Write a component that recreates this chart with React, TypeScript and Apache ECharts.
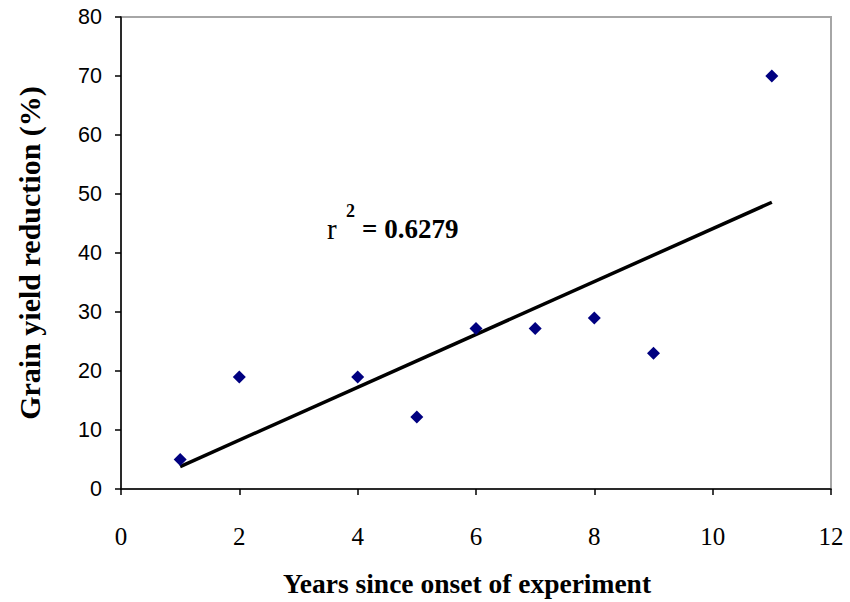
import React, { useEffect, useRef } from "react";
import * as echarts from "echarts";

const years = [1, 2, 4, 5, 6, 7, 8, 9, 11];
const reduction = [5, 19, 19, 12.2, 27.2, 27.2, 29, 23, 70];
const trendX = [1, 11];
const trendY = [3.8, 48.6];
const rSquared = "0.6279";

export default function App() {
  const ref = useRef<HTMLDivElement>(null);
  useEffect(() => {
    if (!ref.current) return;
    const chart = echarts.init(ref.current, null, { renderer: "svg" });
    const serif = "Liberation Serif, Times New Roman, serif";
    const sans = "Liberation Sans, Arial, sans-serif";
    chart.setOption({
      animation: false,
      backgroundColor: "#fff",
      grid: { left: 121, top: 17, right: 19, bottom: 112, show: true, borderColor: "#a6a6a6", borderWidth: 2, backgroundColor: "transparent" },
      xAxis: {
        type: "value", min: 0, max: 12, interval: 2,
        name: "Years since onset of experiment", nameLocation: "middle", nameGap: 80,
        nameTextStyle: { color: "#000", fontFamily: serif, fontSize: 27.5, fontWeight: "bold", padding: [0, 18, 0, 0] },
        axisLine: { show: true, onZero: false, lineStyle: { color: "#000", width: 1.5 } },
        axisTick: { show: true, length: 6, lineStyle: { color: "#000", width: 1.5 } },
        axisLabel: { color: "#000", fontFamily: serif, fontSize: 25, margin: 35 },
        splitLine: { show: false },
      },
      yAxis: {
        type: "value", min: 0, max: 80, interval: 10,
        name: "Grain yield reduction (%)", nameLocation: "middle", nameGap: 77,
        nameTextStyle: { color: "#000", fontFamily: serif, fontSize: 30, fontWeight: "bold" },
        axisLine: { show: true, onZero: false, lineStyle: { color: "#000", width: 1.5 } },
        axisTick: { show: true, length: 6, lineStyle: { color: "#000", width: 1.5 } },
        axisLabel: { color: "#000", fontFamily: sans, fontSize: 21.5, margin: 19, padding: [5, 0, 0, 0] },
        splitLine: { show: false },
      },
      series: [
        {
          type: "line",
          data: trendX.map((x, i) => [x, trendY[i]]),
          showSymbol: false,
          lineStyle: { color: "#000", width: 3.5 },
          z: 2,
        },
        {
          type: "scatter",
          data: years.map((x, i) => [x, reduction[i]]),
          symbol: "diamond",
          symbolSize: 13,
          itemStyle: { color: "#000080", opacity: 1 },
          z: 3,
        },
      ],
      graphic: [
        {
          type: "text", x: 327, y: 229,
          style: { text: "r", fontFamily: serif, fontSize: 29, fontWeight: "normal", fill: "#000", align: "left", verticalAlign: "middle" },
        },
        {
          type: "text", x: 346, y: 211,
          style: { text: "2", fontFamily: serif, fontSize: 18, fontWeight: "bold", fill: "#000", align: "left", verticalAlign: "middle" },
        },
        {
          type: "text", x: 362, y: 229,
          style: { text: "= " + rSquared, fontFamily: serif, fontSize: 27, fontWeight: "bold", fill: "#000", align: "left", verticalAlign: "middle" },
        },
      ],
    });
    return () => chart.dispose();
  }, []);
  return <div ref={ref} style={{ position: "absolute", left: 0, top: 0, width: 850, height: 602 }} />;
}
